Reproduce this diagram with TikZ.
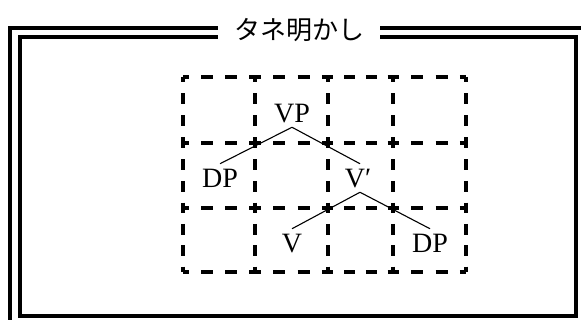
\documentclass[tikz,border=0pt]{standalone}
\usepackage{fontspec}
\setmainfont{Liberation Serif}
\newfontfamily\jpfont{Noto Sans CJK JP}
\begin{document}
\begin{tikzpicture}[x=1pt,y=-1pt,
  frame/.style={line width=3.4pt},
  gridline/.style={line width=3.3pt},
  tn/.style={font=\fontsize{28}{30}\selectfont, inner sep=0pt, outer sep=5pt, text height=18.5pt, text depth=0pt},
  edge/.style={line width=1.1pt},
  titlebox/.style={font=\jpfont\fontsize{26}{28}\selectfont, inner sep=0pt, fill=white, minimum width=162pt, minimum height=20pt}]
\useasboundingbox (0,0) rectangle (581,320);
% frame
\draw[frame] (218,28) -- (10,28) -- (10,330);
\draw[frame] (380,28) -- (600,28);
\draw[frame] (20,37) rectangle (576,316);
\node[titlebox] (title) at (299,30) {\raisebox{3pt}{タネ明かし}};
% grid: horizontal edges
\foreach \y in {77,143,208,272}{
  \foreach \xa/\xb in {183/255,255/328,328/393,393/466}{
    \pgfmathsetmacro{\dl}{(\xb-\xa)/6}
    \pgfmathsetmacro{\dp}{(\xb-\xa)/12}
    \draw[gridline, dash pattern=on \dl pt off \dl pt, dash phase=\dp pt] (\xa,\y) -- (\xb,\y);
  }
}
% grid: vertical edges
\foreach \x in {183,255,328,393,466}{
  \foreach \ya/\yb in {77/143,143/208,208/272}{
    \pgfmathsetmacro{\dl}{(\yb-\ya)/6}
    \pgfmathsetmacro{\dp}{(\yb-\ya)/12}
    \draw[gridline, dash pattern=on \dl pt off \dl pt, dash phase=\dp pt] (\x,\ya) -- (\x,\yb);
  }
}
% tree
\node[tn] (vp) at (292,113) {VP};
\node[tn] (dp1) at (220,178) {DP};
\node[tn] (vbar) at (358,178) {V′};
\node[tn] (v) at (292,243) {V};
\node[tn] (dp2) at (430,243) {DP};
\draw[edge] (vp.south) -- (dp1.north);
\draw[edge] (vp.south) -- ([xshift=2pt]vbar.north);
\draw[edge] ([xshift=2pt]vbar.south) -- (v.north);
\draw[edge] ([xshift=2pt]vbar.south) -- (dp2.north);
\end{tikzpicture}
\end{document}
